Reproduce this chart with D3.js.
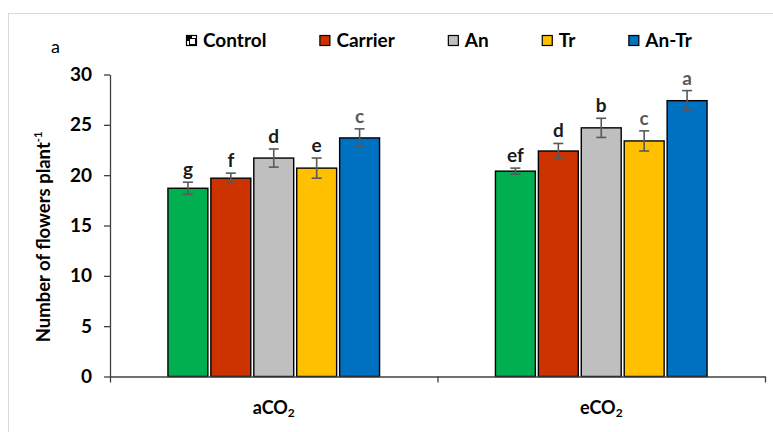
<!DOCTYPE html>
<html>
<head>
<meta charset="utf-8">
<script src="https://cdn.jsdelivr.net/npm/d3@7"></script>
<style>
  body { margin:0; background:#fff; }
  text { font-family: Lato, "Open Sans", sans-serif; }
</style>
</head>
<body>
<div id="chart"></div>
<script>
// data
var groups = ["a", "e"]   // aCO2, eCO2
var series = ["Control", "Carrier", "An", "Tr", "An-Tr"]
var means = [
    [18.7, 19.7, 21.7, 20.7, 23.7],
    [20.4, 22.4, 24.7, 23.4, 27.4]
]
var errors = [
    [0.6, 0.5, 0.9, 1.0, 0.9],
    [0.3, 0.75, 0.95, 1.0, 1.0]
]
var letters = [
    ["g", "f", "d", "e", "c"],
    ["ef", "d", "b", "c", "a"]
]
var yTicks = [0, 5, 10, 15, 20, 25, 30]

var colors = ["#00B050", "#CC3300", "#BFBFBF", "#FFC000", "#0070C0"]
var greyLetters = ["c", "a"]

var W = 773, H = 432
var margin = { left:110, right:8, top:74.5, bottom:55.5 }
var width = W - margin.left - margin.right,
    height = H - margin.top - margin.bottom

var svg = d3.select("#chart").append("svg")
    .attr("width", W).attr("height", H)

// outer frame, only top and left show
svg.append("rect")
    .attr("x", 8.5).attr("y", 13.5)
    .attr("width", 900).attr("height", 600)
    .attr("fill", "none").attr("stroke", "#D9D9D9").attr("stroke-width", 1)

svg.append("text")
    .attr("x", 51).attr("y", 53)
    .attr("font-size", 18)
    .text("a")

var g = svg.append("g")
    .attr("transform", "translate(" + margin.left + "," + margin.top + ")")

var y = d3.scaleLinear().domain([0, 30]).range([height, 0])
var x0 = d3.scaleBand().domain(groups).range([0, width]).padding(0)
var x1 = d3.scaleBand().domain(series).range([0, x0.bandwidth()])
    .paddingInner(0.07).paddingOuter(1.35)

// bars
var grp = g.selectAll(".grp")
    .data(groups)
    .enter().append("g")
        .attr("class", "grp")
        .attr("transform", function(d){ return "translate(" + x0(d) + ",0)" })

grp.each(function(gk, gi){
    var sel = d3.select(this)
    var rows = series.map(function(s, si){
        return { s:s, v:means[gi][si], e:errors[gi][si], l:letters[gi][si], c:colors[si] }
    })
    sel.selectAll("rect")
        .data(rows)
        .enter().append("rect")
            .attr("x", function(d){ return x1(d.s) })
            .attr("y", function(d){ return y(d.v) })
            .attr("width", x1.bandwidth())
            .attr("height", function(d){ return height - y(d.v) })
            .attr("fill", function(d){ return d.c })
            .attr("stroke", "#000")
            .attr("stroke-width", 1.4)

    var eb = sel.selectAll(".eb")
        .data(rows)
        .enter().append("g").attr("class", "eb")
            .attr("stroke", "#595959").attr("stroke-width", 1.6)
    eb.append("line")
        .attr("x1", function(d){ return x1(d.s) + x1.bandwidth()/2 })
        .attr("x2", function(d){ return x1(d.s) + x1.bandwidth()/2 })
        .attr("y1", function(d){ return y(d.v + d.e) })
        .attr("y2", function(d){ return y(d.v - d.e) })
    eb.append("line")
        .attr("x1", function(d){ return x1(d.s) + x1.bandwidth()/2 - 5 })
        .attr("x2", function(d){ return x1(d.s) + x1.bandwidth()/2 + 5 })
        .attr("y1", function(d){ return y(d.v + d.e) })
        .attr("y2", function(d){ return y(d.v + d.e) })
    eb.append("line")
        .attr("x1", function(d){ return x1(d.s) + x1.bandwidth()/2 - 5 })
        .attr("x2", function(d){ return x1(d.s) + x1.bandwidth()/2 + 5 })
        .attr("y1", function(d){ return y(d.v - d.e) })
        .attr("y2", function(d){ return y(d.v - d.e) })

    sel.selectAll(".lab")
        .data(rows)
        .enter().append("text").attr("class", "lab")
            .attr("x", function(d){ return x1(d.s) + x1.bandwidth()/2 })
            .attr("y", function(d){ return y(d.v + d.e) - 6 })
            .attr("text-anchor", "middle")
            .attr("font-size", 19).attr("font-weight", "bold")
            .attr("fill", function(d){ return greyLetters.includes(d.l) ? "#595959" : "#1a1a1a" })
            .text(function(d){ return d.l })
})

// y axis
var yAxis = d3.axisLeft(y).tickValues(yTicks).tickSize(6).tickPadding(12).tickSizeOuter(0)
var ya = g.append("g").call(yAxis)
ya.selectAll("text").attr("font-size", 19).attr("font-weight", "bold").attr("fill", "#000")
ya.selectAll("line, path").attr("stroke", "#404040").attr("stroke-width", 1.3)

// x axis: ticks on group boundaries, labels in the middle
var xb = d3.scaleLinear().domain([0, groups.length]).range([0, width])
var xa = g.append("g")
    .attr("transform", "translate(0," + height + ")")
    .call(d3.axisBottom(xb).tickValues(d3.range(groups.length + 1)).tickSize(6).tickSizeOuter(0).tickFormat(""))
xa.selectAll("line, path").attr("stroke", "#404040").attr("stroke-width", 1.3)

var xl = g.selectAll(".xl")
    .data(groups)
    .enter().append("text").attr("class", "xl")
        .attr("x", function(d){ return x0(d) + x0.bandwidth()/2 })
        .attr("y", height + 37)
        .attr("text-anchor", "middle")
        .attr("font-size", 18).attr("font-weight", "bold")
xl.append("tspan").text(function(d){ return d + "CO" })
xl.append("tspan").attr("font-size", 12).attr("dy", 3).text("2")

// y label
var yl = svg.append("text")
    .attr("transform", "translate(50," + 237 + ") rotate(-90)")
    .attr("text-anchor", "middle")
    .attr("font-size", 18.5).attr("font-weight", "bold")
yl.append("tspan").text("Number of flowers plant")
yl.append("tspan").attr("font-size", 11).attr("dy", -8).text("-1")

// legend
var leg = svg.append("g").attr("transform", "translate(186,0)")
var lx = 0
series.forEach(function(s, i){
    var it = leg.append("g").attr("transform", "translate(" + lx + ",0)")
    if (i == 0) {
        it.append("rect").attr("x", 0.5).attr("y", 35.5).attr("width", 10).attr("height", 10)
            .attr("fill", "#fff").attr("stroke", "#000").attr("stroke-width", 1.2)
        it.append("rect").attr("x", 1).attr("y", 36).attr("width", 5).attr("height", 5).attr("fill", "#000")
        it.append("rect").attr("x", 3.5).attr("y", 38.5).attr("width", 6).attr("height", 6)
            .attr("fill", "#fff").attr("stroke", "#000").attr("stroke-width", 1)
    } else {
        it.append("rect").attr("x", 0.5).attr("y", 35.5).attr("width", 10).attr("height", 10)
            .attr("fill", colors[i]).attr("stroke", "#000").attr("stroke-width", 1.2)
    }
    var t = it.append("text").attr("x", 17).attr("y", 47)
        .attr("font-size", 19).attr("font-weight", "bold")
        .text(s)
    lx += 17 + t.node().getComputedTextLength() + 53
})
</script>
</body>
</html>
